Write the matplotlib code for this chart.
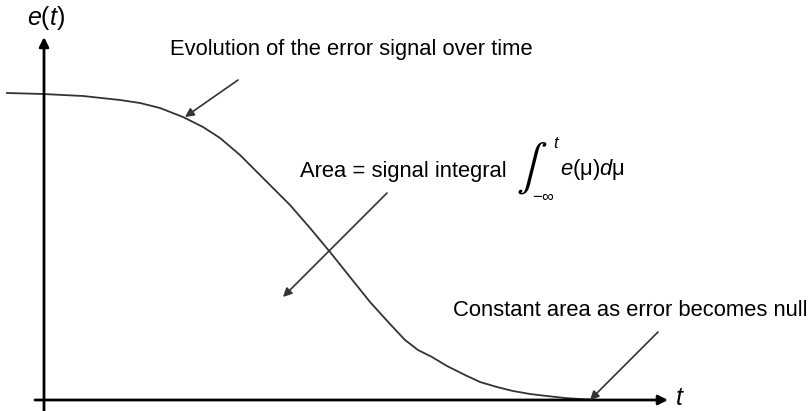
import numpy as np
import matplotlib.pyplot as plt

plt.rcParams['font.family'] = ['Liberation Sans', 'DejaVu Sans']
plt.rcParams['mathtext.fontset'] = 'custom'
plt.rcParams['mathtext.rm'] = 'Liberation Sans'
plt.rcParams['mathtext.it'] = 'Liberation Sans:italic'

# error signal (time, error), arbitrary units
t = np.array([-37, -1, 39, 76, 96, 116, 139, 159, 176, 196, 216, 236, 246,
              266, 286, 306, 326, 346, 361, 374, 388, 403, 421, 436, 453,
              469, 486, 503, 521, 536, 556])
e = np.array([307, 306, 304, 300, 297, 292, 283, 273, 262, 245, 225, 205, 195,
              172, 148, 123, 98, 76, 60, 50, 43, 34, 25, 18, 13,
              9, 6, 4, 2, 1, 0])

fig = plt.figure(figsize=(8.08, 4.11), dpi=100)
ax = fig.add_axes([0, 0, 1, 1])
ax.set_xlim(-44, 764)
ax.set_ylim(-11, 400)
ax.axis('off')

# axes with arrow heads
axis_style = dict(arrowstyle='-|>', color='black', lw=2, mutation_scale=14,
                  shrinkA=0, shrinkB=0)
ax.annotate('', xy=(0, 363), xytext=(0, -11), arrowprops=axis_style)
ax.annotate('', xy=(624, 0), xytext=(-9, 0), arrowprops=axis_style)
ax.text(2, 382, r'$e$($t$)', fontsize=18, ha='center', va='center')
ax.text(636, 2, r'$t$', fontsize=18, ha='center', va='center')

ax.plot(t, e, color='#333333', lw=1.3, solid_joinstyle='round')

arrow_style = dict(arrowstyle='-|>', color='#333333', lw=1.2, mutation_scale=13,
                   shrinkA=0, shrinkB=0)

ax.text(126, 350, 'Evolution of the error signal over time', fontsize=15.8,
        ha='left', va='center')
ax.annotate('', xy=(141, 283), xytext=(194, 320), arrowprops=arrow_style)

ax.text(256, 228, 'Area = signal integral', fontsize=15.8, ha='left', va='center')
ax.text(472, 232, r'$\int$', fontsize=33, ha='left', va='center',
        math_fontfamily='stixsans')
ax.text(513, 256, r'$t$', fontsize=12, ha='center', va='center')
ax.text(488, 204, r'$-\infty$', fontsize=12, ha='left', va='center')
ax.text(516, 230, r'$e$(μ)$d$μ', fontsize=15.8, ha='left', va='center')
ax.annotate('', xy=(239, 103), xytext=(343, 207), arrowprops=arrow_style)

ax.text(409, 90, 'Constant area as error becomes null', fontsize=15.8,
        ha='left', va='center')
ax.annotate('', xy=(546, 0), xytext=(614, 68), arrowprops=arrow_style)

fig.savefig('out.png', dpi=100)
